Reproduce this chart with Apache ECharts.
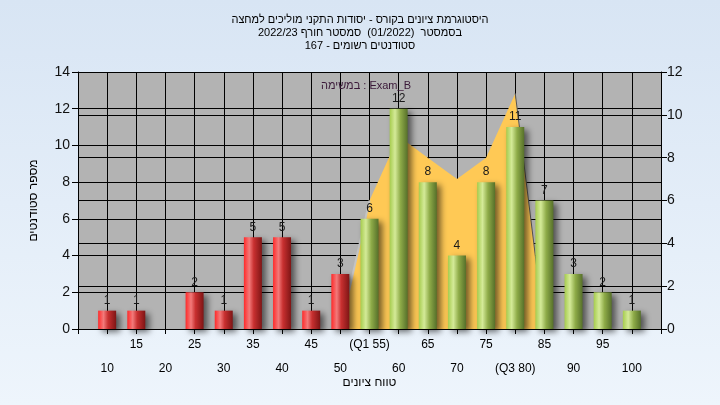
<!DOCTYPE html>
<html>
<head>
<meta charset="utf-8">
<script src="https://cdn.jsdelivr.net/npm/echarts@6/dist/echarts.min.js"></script>
<style>
html,body{margin:0;padding:0;}
#c{width:720px;height:405px;background:linear-gradient(#d8e5f4,#eef5fc);}
</style>
</head>
<body>
<div id="c"></div>
<script>
// ---- data ----
const titleLines = [
  "היסטוגרמת ציונים בקורס - יסודות התקני מוליכים למחצה",
  "בסמסטר  (01/2022)  סמסטר חורף 2022/23",
  "סטודנטים רשומים - 167"
];
const examLabel = "במשימה : Exam_B";
const yAxisName = "מספר סטודנטים";
const xAxisName = "טווח ציונים";
const scores = [10,15,20,25,30,35,40,45,50,55,60,65,70,75,80,85,90,95,100];
const counts = [1,1,0,2,1,5,5,1,3,6,12,8,4,8,11,7,3,2,1];
const q1 = 55, q3 = 80;
const areaScores = [50,55,60,65,70,75,80,85];
const areaValues = [0,6,9,8,7,8,11,0];

const FONT = "'Liberation Sans','DejaVu Sans',Arial,sans-serif";
const redGrad = new echarts.graphic.LinearGradient(0,0,1,0,[
  {offset:0,color:'#ff2a2a'},{offset:0.3,color:'#f27a7a'},{offset:0.55,color:'#c83030'},{offset:1,color:'#7e1515'}]);
const greenGrad = new echarts.graphic.LinearGradient(0,0,1,0,[
  {offset:0,color:'#a6cc4e'},{offset:0.3,color:'#d4ea98'},{offset:0.6,color:'#8eab48'},{offset:1,color:'#56702a'}]);

const barData = scores.map((s,i)=>({
  value:[s,counts[i]],
  itemStyle:{color: s<q1 ? redGrad : greenGrad},
  label:{show: counts[i]>0}
}));

const chart = echarts.init(document.getElementById('c'), null, {renderer:'canvas'});
chart.setOption({
  backgroundColor:'transparent',
  animation:false,
  textStyle:{fontFamily:FONT},
  title:{
    text: titleLines.map(t=>'\u202B'+t+'\u202C').join('\n'),
    left:'center', top:8,
    textStyle:{fontSize:11,fontWeight:'normal',color:'#000',lineHeight:13,fontFamily:FONT}
  },
  graphic:[{
    type:'text', left:321, top:80, z:100,
    style:{text:examLabel, fill:'#3a1838', font:'11px '+FONT}
  }],
  grid:{left:78,right:59,top:72,bottom:76},
  xAxis:{
    type:'value', min:5, max:105, interval:5,
    name:xAxisName, nameLocation:'middle', nameGap:48, nameMoveOverlap:false,
    nameTextStyle:{fontSize:12,color:'#000'},
    axisLine:{show:true,lineStyle:{color:'#000',width:1}},
    axisTick:{show:true,length:5,lineStyle:{color:'#000'}},
    splitLine:{show:true,lineStyle:{color:'#000',width:1}},
    axisLabel:{
      margin:4, fontSize:12, color:'#000', lineHeight:24, showMinLabel:true, showMaxLabel:true,
      formatter:function(v){
        if(v<10||v>100) return '';
        let t = String(v);
        if(v===q1) t='(Q1 '+v+')';
        if(v===q3) t='(Q3 '+v+')';
        return (v%10===0) ? ' \n'+t : t+'\n ';
      }
    }
  },
  yAxis:[{
    type:'value', min:0, max:14, interval:2, position:'left',
    name:yAxisName, nameLocation:'middle', nameGap:38, nameRotate:90,
    nameTextStyle:{fontSize:12,color:'#000'},
    axisLine:{show:true,lineStyle:{color:'#000'}},
    axisTick:{show:true,length:6,lineStyle:{color:'#000'}},
    axisLabel:{fontSize:14,color:'#111',margin:8},
    splitLine:{show:true,lineStyle:{color:'#000',width:1}},
    splitArea:{show:true,areaStyle:{color:['#b3b3b3','#b3b3b3']}}
  },{
    type:'value', min:0, max:12, interval:2, position:'right',
    axisLine:{show:true,lineStyle:{color:'#000'}},
    axisTick:{show:true,length:6,lineStyle:{color:'#000'}},
    axisLabel:{fontSize:14,color:'#111',margin:6},
    splitLine:{show:true,lineStyle:{color:'#000',width:1}}
  }],
  series:[{
    type:'line', yAxisIndex:1, z:1,
    data: areaScores.map((s,i)=>[s,areaValues[i]]),
    symbol:'none', lineStyle:{width:0},
    areaStyle:{color:'#ffc955',opacity:1}
  },{
    type:'line', yAxisIndex:1, z:1,
    data: areaScores.slice(0,2).map((s,i)=>[s,areaValues[i]]),
    symbol:'none', lineStyle:{width:2,color:'#c4c4c4'}
  },{
    type:'line', yAxisIndex:1, z:1,
    data: areaScores.slice(-2).map((s,i)=>[s,areaValues[areaValues.length-2+i]]),
    symbol:'none', lineStyle:{width:1,color:'#555'}
  },{
    type:'bar', yAxisIndex:0, z:3, barWidth:18,
    data: barData,
    itemStyle:{shadowColor:'rgba(0,0,0,0.55)',shadowBlur:6,shadowOffsetX:4,shadowOffsetY:3},
    label:{show:true,position:'top',distance:4,fontSize:12,color:'#1a1a1a',
      formatter:p=>p.value[1]}
  }]
});
</script>
</body>
</html>
